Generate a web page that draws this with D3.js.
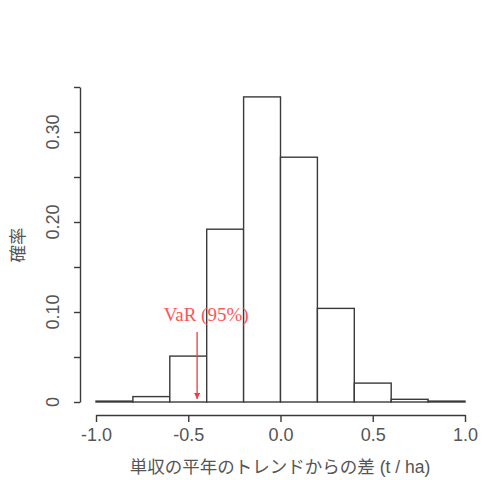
<!DOCTYPE html>
<html>
<head>
<meta charset="utf-8">
<script src="https://cdn.jsdelivr.net/npm/d3@7/dist/d3.min.js"></script>
<style>
  html, body { margin: 0; padding: 0; background: #fff; }
  svg { display: block; }
</style>
</head>
<body>
<svg id="chart" width="485" height="480"></svg>
<script>
// Histogram of yield deviation from the normal-year trend
const binStart = [-1.0, -0.8, -0.6, -0.4, -0.2, 0.0, 0.2, 0.4, 0.6, 0.8];
const binEnd   = [-0.8, -0.6, -0.4, -0.2, 0.0, 0.2, 0.4, 0.6, 0.8, 1.0];
const probability = [0.001, 0.006, 0.051, 0.192, 0.339, 0.272, 0.104, 0.021, 0.003, 0.001];

const xTicks = [-1.0, -0.5, 0.0, 0.5, 1.0];
const xTickLabels = ["-1.0", "-0.5", "0.0", "0.5", "1.0"];
const yTicks = [0, 0.05, 0.10, 0.15, 0.20, 0.25, 0.30, 0.35];
const yLabelTicks = [0, 0.10, 0.20, 0.30];
const yTickLabels = ["0", "0.10", "0.20", "0.30"];

const varValue = -0.452;
const varLabel = "VaR (95%)";
const xTitle = "単収の平年のトレンドからの差 (t / ha)";
const yTitle = "確率";

const svg = d3.select("#chart");
const font = "'Liberation Sans', Arial, 'Noto Sans CJK JP', sans-serif";
const lineColor = "#3a3a3a";
const textColor = "#555";

const x = d3.scaleLinear().domain([-1, 1]).range([96, 465]);
const y = d3.scaleLinear().domain([0, 0.35]).range([402, 87]);

const bins = binStart.map((s, i) => ({ x0: s, x1: binEnd[i], p: probability[i] }));

// bars
svg.append("g")
  .selectAll("rect")
  .data(bins)
  .join("rect")
  .attr("x", d => x(d.x0))
  .attr("y", d => y(d.p))
  .attr("width", d => x(d.x1) - x(d.x0))
  .attr("height", d => y(0) - y(d.p))
  .attr("fill", "#fff")
  .attr("stroke", lineColor)
  .attr("stroke-width", 1.4);

// x axis
const xAxis = svg.append("g")
  .attr("transform", "translate(0,415)")
  .call(d3.axisBottom(x).tickValues(xTicks).tickSize(7).tickSizeOuter(0).tickPadding(6)
    .tickFormat((d, i) => xTickLabels[i]));
xAxis.select(".domain").attr("stroke", lineColor).attr("stroke-width", 1.4);
xAxis.selectAll(".tick line").attr("stroke", lineColor).attr("stroke-width", 1.4);
xAxis.selectAll(".tick text")
  .attr("fill", textColor)
  .style("font-family", font)
  .style("font-size", "18px");

// y axis
const yAxis = svg.append("g")
  .attr("transform", "translate(80,0)")
  .call(d3.axisLeft(y).tickValues(yTicks).tickSize(6).tickSizeOuter(0).tickFormat(""));
yAxis.select(".domain").attr("stroke", lineColor).attr("stroke-width", 1.4);
yAxis.selectAll(".tick line").attr("stroke", lineColor).attr("stroke-width", 1.4);

svg.append("g")
  .selectAll("text")
  .data(yLabelTicks)
  .join("text")
  .attr("transform", d => `translate(59,${y(d)}) rotate(-90)`)
  .attr("text-anchor", "middle")
  .attr("fill", textColor)
  .style("font-family", font)
  .style("font-size", "18px")
  .text((d, i) => yTickLabels[i]);

// axis titles
svg.append("text")
  .attr("x", 280)
  .attr("y", 473)
  .attr("text-anchor", "middle")
  .attr("fill", textColor)
  .style("font-family", font)
  .style("font-size", "17.5px")
  .text(xTitle);

svg.append("text")
  .attr("transform", `translate(24,245) rotate(-90)`)
  .attr("text-anchor", "middle")
  .attr("fill", textColor)
  .style("font-family", font)
  .style("font-size", "17.5px")
  .text(yTitle);

// VaR marker
const red = "#f03c3c";
svg.append("defs").append("marker")
  .attr("id", "arrowhead")
  .attr("viewBox", "0 0 10 10")
  .attr("refX", 10).attr("refY", 5)
  .attr("markerWidth", 5).attr("markerHeight", 5)
  .attr("orient", "auto")
  .append("path")
  .attr("d", "M0,0 L10,5 L0,10 Z")
  .attr("fill", red);

svg.append("line")
  .attr("x1", x(varValue)).attr("x2", x(varValue))
  .attr("y1", 332).attr("y2", y(0) - 3)
  .attr("stroke", red)
  .attr("stroke-width", 1.3)
  .attr("marker-end", "url(#arrowhead)");

svg.append("text")
  .attr("x", x(varValue) + 9)
  .attr("y", 321)
  .attr("text-anchor", "middle")
  .attr("fill", "#f55")
  .style("font-family", "'Liberation Serif', 'Times New Roman', serif")
  .style("font-size", "19px")
  .text(varLabel);
</script>
</body>
</html>
